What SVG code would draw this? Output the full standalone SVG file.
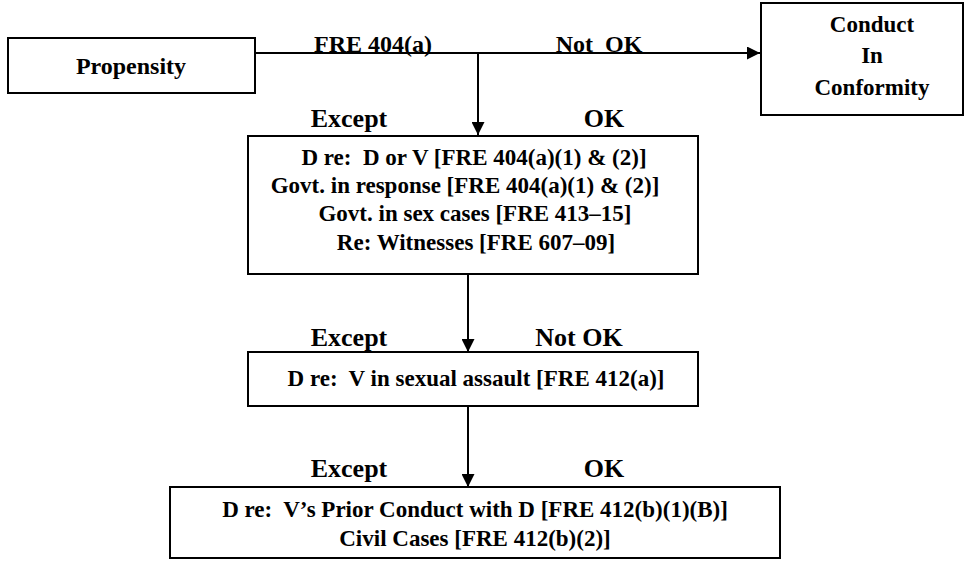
<svg xmlns="http://www.w3.org/2000/svg" width="967" height="567" viewBox="0 0 967 567">
<style>
.box{fill:#fff;stroke:#000;stroke-width:2}
.t{font-family:"Liberation Serif","Times New Roman",serif;font-weight:bold;fill:#000;text-anchor:middle}
.n{font-size:23px}
.p{font-size:24px}
.b{font-size:23px}
.e{font-size:26px}
.f{font-size:24px}
.c{stroke:#000;stroke-width:2;fill:none}
</style>
<defs>
<marker id="ah2" viewBox="0 0 10 10" refX="10" refY="5" markerWidth="8" markerHeight="6.5" orient="auto" markerUnits="strokeWidth">
<path d="M0,0 L10,5 L0,10 z" fill="#000"/>
</marker>
</defs>
<rect width="967" height="567" fill="#fff"/>
<g id="connectors">
<line class="c" x1="255" y1="53" x2="760" y2="53" marker-end="url(#ah2)"/>
<line class="c" x1="478" y1="53" x2="478" y2="135" marker-end="url(#ah2)"/>
<line class="c" x1="468" y1="274" x2="468" y2="352" marker-end="url(#ah2)"/>
<line class="c" x1="468" y1="406" x2="468" y2="487" marker-end="url(#ah2)"/>
<text class="t f" x="373" y="52">FRE 404(a)</text>
<text class="t f" x="599" y="52" xml:space="preserve">Not  OK</text>
<text class="t e" x="349" y="127">Except</text>
<text class="t e" x="604" y="127">OK</text>
<text class="t e" x="349" y="346">Except</text>
<text class="t e" x="579" y="346">Not OK</text>
<text class="t e" x="349" y="477">Except</text>
<text class="t e" x="604" y="477">OK</text>
</g>
<g id="propensity">
<rect class="box" x="8" y="38" width="247" height="55"/>
<text class="t p" x="131" y="74">Propensity</text>
</g>
<g id="conduct">
<rect class="box" x="761" y="3" width="202" height="112"/>
<text class="t n" x="872" y="32">Conduct</text>
<text class="t n" x="872" y="63">In</text>
<text class="t n" x="872" y="95">Conformity</text>
</g>
<g id="exceptions">
<rect class="box" x="248" y="136" width="450" height="138"/>
<text class="t b" x="474" y="165" xml:space="preserve">D re:  D or V [FRE 404(a)(1) &amp; (2)]</text>
<text class="t b" x="465" y="193">Govt. in response [FRE 404(a)(1) &amp; (2)]</text>
<text class="t b" x="475" y="221">Govt. in sex cases [FRE 413–15]</text>
<text class="t b" x="476" y="250">Re: Witnesses [FRE 607–09]</text>
</g>
<g id="sexual-assault">
<rect class="box" x="248" y="352" width="450" height="54"/>
<text class="t b" x="476" y="386" xml:space="preserve">D re:  V in sexual assault [FRE 412(a)]</text>
</g>
<g id="prior-conduct">
<rect class="box" x="170" y="487" width="610" height="71"/>
<text class="t b" x="475" y="517" xml:space="preserve">D re:  V’s Prior Conduct with D [FRE 412(b)(1)(B)]</text>
<text class="t b" x="475" y="546">Civil Cases [FRE 412(b)(2)]</text>
</g>
</svg>
